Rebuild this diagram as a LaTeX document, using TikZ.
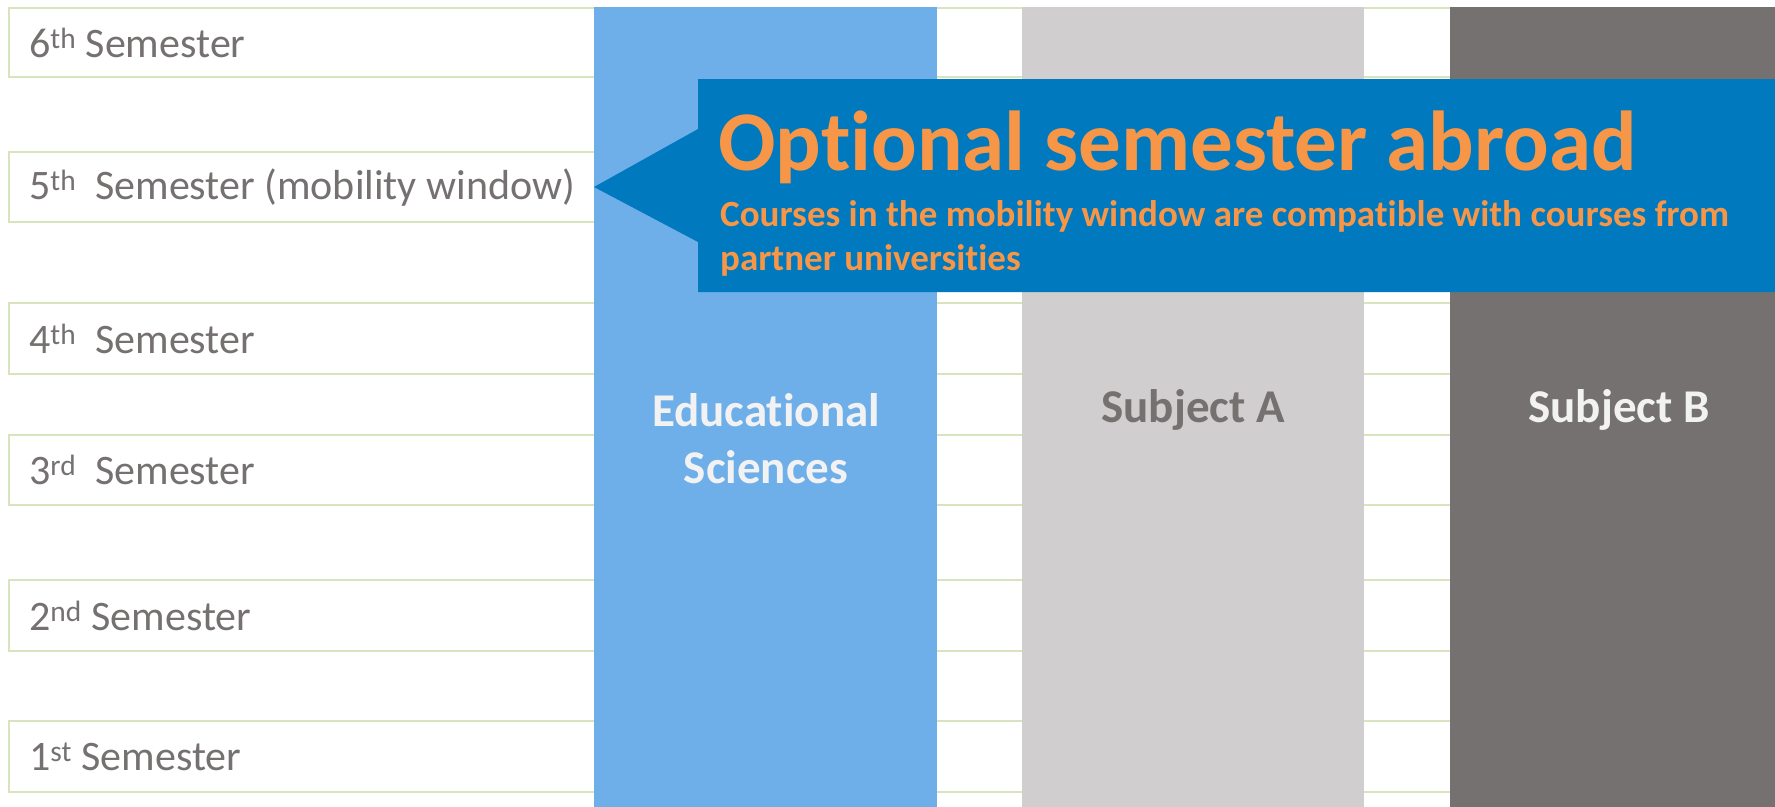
\documentclass[tikz,border=0pt]{standalone}
\usepackage{fontspec}
\setmainfont{Carlito}[Ligatures=NoCommon]
\definecolor{rowline}{RGB}{215,228,189}
\definecolor{semgray}{RGB}{118,113,113}
\definecolor{edublue}{RGB}{110,175,234}
\definecolor{subjA}{RGB}{208,206,206}
\definecolor{subjB}{RGB}{118,113,113}
\definecolor{callblue}{RGB}{0,121,190}
\definecolor{callorange}{RGB}{247,150,70}
\definecolor{lightwhite}{RGB}{242,242,242}
\tikzset{
  rowbox/.style={draw=rowline, line width=1.6pt, fill=white},
  semlabel/.style={anchor=west, inner sep=0pt, text=semgray, font=\fontsize{42}{51}\selectfont},
  collabel/.style={anchor=center, inner sep=0pt, align=center, font=\bfseries\fontsize{47}{57}\selectfont},
  calltext/.style={anchor=base west, inner sep=0pt, text=callorange},
}
\begin{document}
\begin{tikzpicture}[x=1pt,y=-1pt]
\useasboundingbox (0,0) rectangle (1775,806);
\fill[white] (0,0) rectangle (1775,806);
% semester rows
\draw[rowbox] (9,8) rectangle (1790,77);
\draw[rowbox] (9,152) rectangle (1790,222);
\draw[rowbox] (9,303) rectangle (1790,374);
\draw[rowbox] (9,435) rectangle (1790,505);
\draw[rowbox] (9,580) rectangle (1790,651);
\draw[rowbox] (9,721) rectangle (1790,792);
% columns
\fill[edublue] (594,7) rectangle (937,810);
\fill[subjA] (1022,7) rectangle (1364,810);
\fill[subjB] (1450,7) rectangle (1780,810);
% semester labels
\node[semlabel] (s6) at (29,43) {6\textsuperscript{th} Semester};
\node[semlabel] (s5) at (29,188) {5\textsuperscript{th}~ Semester (mobility window)};
\node[semlabel] (s4) at (29,339) {4\textsuperscript{th}~ Semester};
\node[semlabel] (s3) at (29,470) {3\textsuperscript{rd}~ Semester};
\node[semlabel] (s2) at (29,616) {2\textsuperscript{nd} Semester};
\node[semlabel] (s1) at (29,757) {1\textsuperscript{st} Semester};
% column labels
\node[collabel, text=lightwhite] (edu) at (766,439) {Educational\\Sciences};
\node[collabel, text=semgray] (sa) at (1193,410) {Subject A};
\node[collabel, text=lightwhite] (sb) at (1619,410) {Subject B};
% callout
\fill[callblue] (698,79) -- (1780,79) -- (1780,292) -- (698,292) -- (698,242) -- (594,187) -- (698,129) -- cycle;
\node[calltext, font=\bfseries\fontsize{85}{100}\selectfont] (title) at (718,170) {Optional semester abroad};
\node[calltext, font=\bfseries\fontsize{37}{45}\selectfont] (sub1) at (720,226) {Courses in the mobility window are compatible with courses from};
\node[calltext, font=\bfseries\fontsize{37}{45}\selectfont] (sub2) at (720,270) {partner universities};
\end{tikzpicture}
\end{document}
